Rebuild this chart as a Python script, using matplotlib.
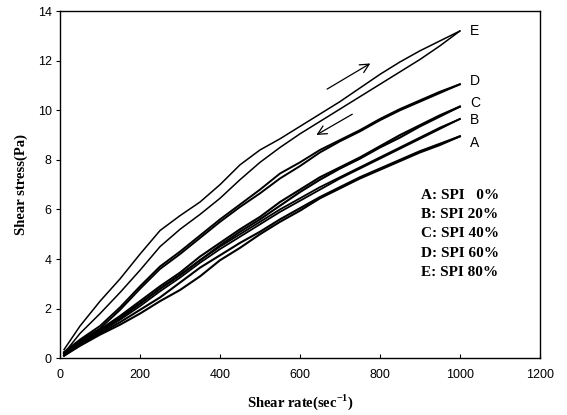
import numpy as np
import matplotlib.pyplot as plt

# shear rate grid (sec^-1)
rate = [10, 50, 100, 150, 200, 250, 300, 350, 400, 450, 500,
        550, 600, 650, 700, 750, 800, 850, 900, 950, 1000]

# shear stress (Pa), up curve and down curve for each SPI level
a_up = [0.1, 0.55, 1.0, 1.45, 1.95, 2.45, 3.05, 3.65, 4.15, 4.65, 5.1,
        5.6, 6.05, 6.5, 6.9, 7.3, 7.65, 8.0, 8.35, 8.65, 8.95]
a_down = [0.1, 0.5, 0.95, 1.35, 1.8, 2.3, 2.75, 3.3, 3.95, 4.45, 5.0,
          5.5, 5.95, 6.45, 6.85, 7.25, 7.6, 7.95, 8.3, 8.6, 8.95]
b_up = [0.15, 0.6, 1.1, 1.65, 2.2, 2.8, 3.35, 3.95, 4.5, 5.0, 5.5,
        6.0, 6.45, 6.9, 7.3, 7.7, 8.1, 8.5, 8.9, 9.3, 9.65]
b_down = [0.15, 0.55, 1.05, 1.55, 2.1, 2.7, 3.25, 3.85, 4.4, 4.9, 5.4,
          5.9, 6.35, 6.8, 7.25, 7.65, 8.05, 8.45, 8.85, 9.25, 9.65]
c_up = [0.2, 0.65, 1.15, 1.7, 2.3, 2.9, 3.45, 4.1, 4.65, 5.2, 5.7,
        6.3, 6.8, 7.3, 7.7, 8.1, 8.55, 9.0, 9.4, 9.8, 10.15]
c_down = [0.2, 0.6, 1.1, 1.6, 2.2, 2.8, 3.35, 3.95, 4.55, 5.1, 5.6,
          6.15, 6.7, 7.2, 7.65, 8.05, 8.5, 8.9, 9.35, 9.75, 10.15]
d_up = [0.25, 0.75, 1.3, 2.05, 2.9, 3.7, 4.3, 4.95, 5.6, 6.2, 6.8,
        7.45, 7.9, 8.4, 8.8, 9.2, 9.65, 10.05, 10.4, 10.75, 11.05]
d_down = [0.2, 0.7, 1.2, 1.95, 2.8, 3.6, 4.2, 4.85, 5.5, 6.1, 6.65,
          7.25, 7.75, 8.3, 8.75, 9.15, 9.6, 10.0, 10.35, 10.7, 11.05]
e_up = [0.35, 1.3, 2.3, 3.2, 4.2, 5.15, 5.75, 6.3, 7.0, 7.8, 8.4,
        8.85, 9.35, 9.85, 10.35, 10.9, 11.45, 11.95, 12.4, 12.8, 13.2]
e_down = [0.2, 1.0, 1.8, 2.65, 3.55, 4.5, 5.2, 5.8, 6.45, 7.2, 7.9,
          8.5, 9.05, 9.55, 10.05, 10.55, 11.05, 11.55, 12.05, 12.6, 13.2]

curve_names = ['A', 'B', 'C', 'D', 'E']
curve_label_y = [8.7, 9.6, 10.3, 11.2, 13.2]
legend_lines = ['A: SPI   0%', 'B: SPI 20%', 'C: SPI 40%', 'D: SPI 60%', 'E: SPI 80%']

plt.rcParams['font.family'] = ['Liberation Sans', 'DejaVu Sans']

fig = plt.figure(figsize=(5.67, 4.15), dpi=100)
ax = fig.add_axes([0.106, 0.137, 0.846, 0.836])

pairs = [(a_up, a_down, 1.5), (b_up, b_down, 1.3), (c_up, c_down, 1.5),
         (d_up, d_down, 1.4), (e_up, e_down, 1.1)]
for up, down, lw in pairs:
    ax.plot(rate, up, color='k', lw=lw)
    ax.plot(rate, down, color='k', lw=lw)

for name, yl in zip(curve_names, curve_label_y):
    ax.text(1025, yl, name, fontsize=10, va='center', ha='left')

# direction arrows
ax.annotate('', xy=(782, 11.95), xytext=(662, 10.8),
            arrowprops=dict(arrowstyle='->', color='k', lw=0.9,
                            mutation_scale=16))
ax.annotate('', xy=(635, 8.95), xytext=(737, 9.9),
            arrowprops=dict(arrowstyle='->', color='k', lw=0.9,
                            mutation_scale=16))

for i, t in enumerate(legend_lines):
    ax.text(903, 6.57 - i * 0.78, t, fontsize=11, fontweight='bold',
            family='Liberation Serif', va='center', ha='left')

ax.set_xlim(0, 1200)
ax.set_ylim(0, 14)
ax.set_xticks(np.arange(0, 1201, 200))
ax.set_yticks(np.arange(0, 15, 2))
ax.tick_params(axis='x', direction='in', length=3, labelsize=9, pad=8)
ax.tick_params(axis='y', direction='out', length=3, labelsize=9, pad=3)
for s in ax.spines.values():
    s.set_linewidth(1.0)

ax.set_xlabel('Shear rate(sec$^{\\mathregular{-1}}$)', family='Liberation Serif',
              fontweight='bold', fontsize=10.5, labelpad=8)
ax.set_ylabel('Shear stress(Pa)', family='Liberation Serif',
              fontweight='bold', fontsize=10.5, labelpad=7)

fig.savefig('out.png', dpi=100)
